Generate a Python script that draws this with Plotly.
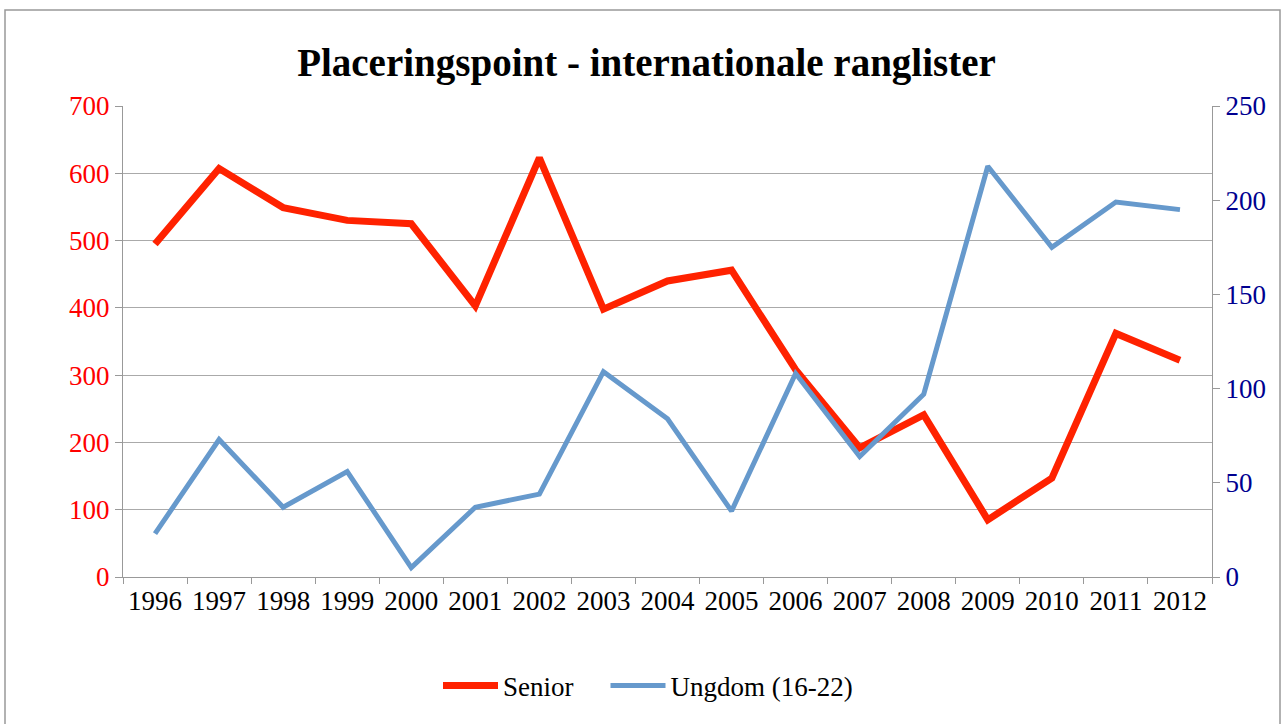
import plotly.graph_objects as go

years = [str(y) for y in range(1996, 2013)]
senior = [495, 607, 549, 530, 525, 403, 623, 398, 440, 456, 308, 192, 241, 85, 147, 362, 322]
ungdom = [23, 73, 37, 56, 5, 37, 44, 109, 84, 35, 108, 64, 97, 218, 175, 199, 195]

left_ticks = [0, 100, 200, 300, 400, 500, 600, 700]
right_ticks = [0, 50, 100, 150, 200, 250]

FONT = "Liberation Serif"
W, H = 1287, 724
L, R, T, B = 123, 1212, 106, 577

fig = go.Figure()
fig.add_trace(go.Scatter(x=years, y=senior, name="Senior\u00a0\u00a0\u00a0\u00a0", mode="lines",
                         line=dict(color="#FF2200", width=7), yaxis="y"))
fig.add_trace(go.Scatter(x=years, y=ungdom, name="Ungdom (16-22)", mode="lines",
                         line=dict(color="#6699CC", width=5), yaxis="y2"))

pw, ph = R - L, B - T
def px(x): return (x - L) / pw
def py(y): return (B - y) / ph

fig.update_layout(
    width=W, height=H,
    margin=dict(l=L, r=W - R, t=T, b=H - B, autoexpand=False),
    paper_bgcolor="white", plot_bgcolor="white",
    title=dict(text="<b>Placeringspoint - internationale ranglister</b>",
               font=dict(family=FONT, size=39, color="black"),
               x=646.5 / W, xref="container", xanchor="center",
               y=1 - 62 / H, yref="container", yanchor="middle"),
    xaxis=dict(type="category", tickson="boundaries", ticks="outside", ticklen=6,
               tickcolor="#999999", showline=True, linecolor="#999999", linewidth=1,
               showgrid=False, tickfont=dict(family=FONT, size=27, color="black"),
               range=[-0.5, 16.5]),
    yaxis=dict(range=[0, 700], tickvals=left_ticks, ticks="outside", ticklen=7,
               tickcolor="#999999", showline=True, linecolor="#999999",
               showgrid=True, gridcolor="#AAAAAA", gridwidth=1, zeroline=False,
               tickfont=dict(family=FONT, size=27, color="#FF0000")),
    yaxis2=dict(range=[0, 250], tickvals=right_ticks, overlaying="y", side="right",
                ticks="outside", ticklen=7, tickcolor="#999999", showline=True,
                linecolor="#999999", showgrid=False, zeroline=False,
                tickfont=dict(family=FONT, size=27, color="#000090")),
    legend=dict(orientation="h", x=px(438), xanchor="left", y=py(686), yanchor="middle",
                font=dict(family=FONT, size=27, color="black"), itemwidth=55,
                bgcolor="rgba(0,0,0,0)"),
    shapes=[dict(type="rect", xref="paper", yref="paper",
                 x0=px(5), x1=px(1280), y0=py(740), y1=py(10),
                 line=dict(color="#999999", width=1.5), fillcolor="rgba(0,0,0,0)",
                 layer="below")],
)

fig.write_html("out.html", post_script="document.body.style.margin='0';",
               config={"displayModeBar": False})
